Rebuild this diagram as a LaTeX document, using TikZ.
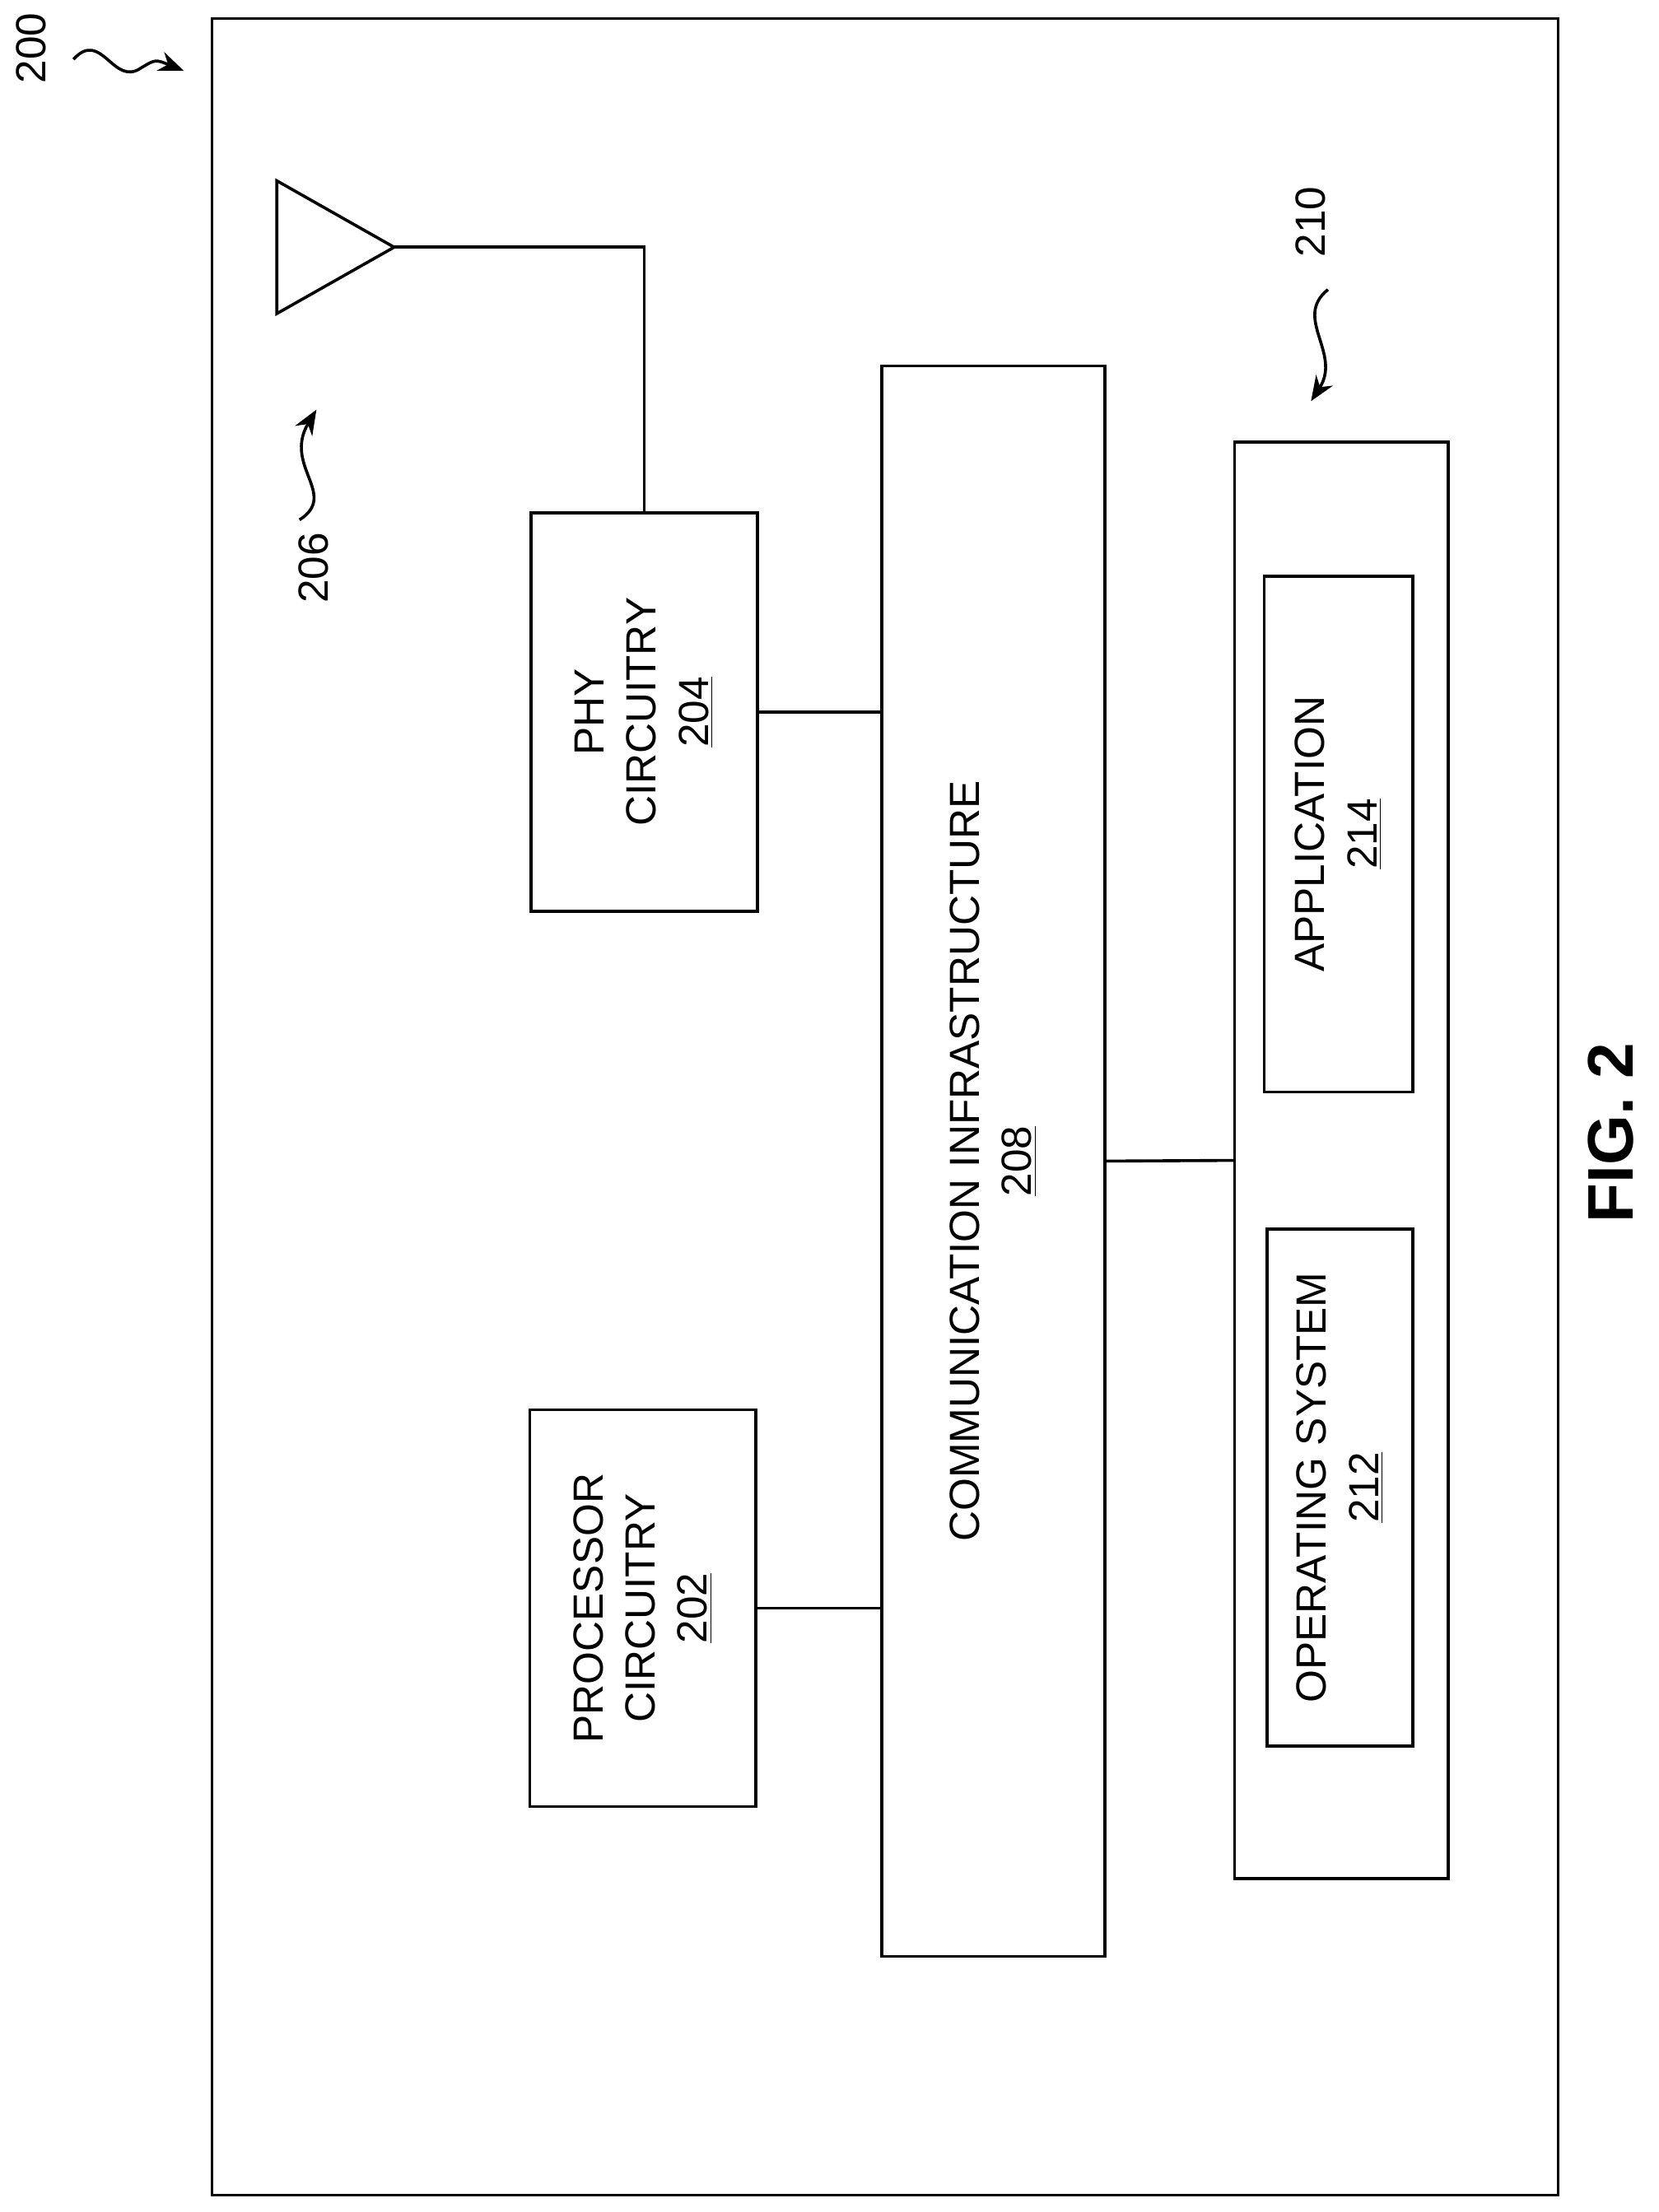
\documentclass[tikz,border=0pt]{standalone}
\usepackage{fontspec}
\setmainfont{Liberation Sans}
\usetikzlibrary{arrows.meta}
\tikzset{
  box/.style={draw, line width=1.2pt, inner sep=0pt},
  lbl/.style={rotate=90, align=center, font=\fontsize{17}{21}\selectfont},
  wire/.style={line width=1.2pt},
  ref/.style={line width=1.2pt, -{Stealth[length=10pt,width=8pt]}}
}
\begin{document}
\begin{tikzpicture}[x=0.02cm, y=-0.02cm]
\useasboundingbox (0,0) rectangle (1174,1566);
% outer frame
\node[box, minimum width=953*0.02cm, minimum height=1541*0.02cm] (dev) at (626.5,783.5) {};
% antenna
\draw[wire] (196,128) -- (196,222) -- (279,175) -- cycle;
\coordinate (ant) at (279,175);
% blocks
\node[box, minimum width=160*0.02cm, minimum height=282*0.02cm] (phy) at (456,504) {};
\node[lbl] at (phy) {PHY\\CIRCUITRY\\\underline{204}};
\node[box, minimum width=160*0.02cm, minimum height=281*0.02cm] (proc) at (455,1138.5) {};
\node[lbl] at (proc) {PROCESSOR\\CIRCUITRY\\\underline{202}};
\node[box, minimum width=158*0.02cm, minimum height=1126*0.02cm] (comm) at (703,822) {};
\node[lbl] at (comm) {COMMUNICATION INFRASTRUCTURE\\\underline{208}};
\node[box, minimum width=151*0.02cm, minimum height=1017*0.02cm] (mem) at (949.5,821.5) {};
\node[box, minimum width=105*0.02cm, minimum height=365*0.02cm] (app) at (947.5,590.5) {};
\node[lbl] at (app) {APPLICATION\\\underline{214}};
\node[box, minimum width=103*0.02cm, minimum height=366*0.02cm] (os) at (948.5,1053) {};
\node[lbl] at (os) {OPERATING SYSTEM\\\underline{212}};
% connections
\draw[wire] (ant) -| (phy.north);
\draw[wire] (phy.east) -- (phy.east -| comm.west);
\draw[wire] (proc.east) -- (proc.east -| comm.west);
\draw[wire] (comm.east) -- (mem.west);
% reference numerals
\node[lbl] (n200) at (22,34) {200};
\draw[ref] (52,42) .. controls (72,20) and (80,62) .. (100,48) .. controls (110,42) .. (130,50);
\node[lbl] (n206) at (222,402) {206};
\draw[ref] (212,368) .. controls (240,350) and (200,330) .. (224,290);
\node[lbl] (n210) at (928,157) {210};
\draw[ref] (940,205) .. controls (915,225) and (950,250) .. (928,284);
\node[rotate=90, font=\bfseries\fontsize{26}{30}\selectfont] (fig) at (1140,802) {FIG. 2};
\end{tikzpicture}
\end{document}
